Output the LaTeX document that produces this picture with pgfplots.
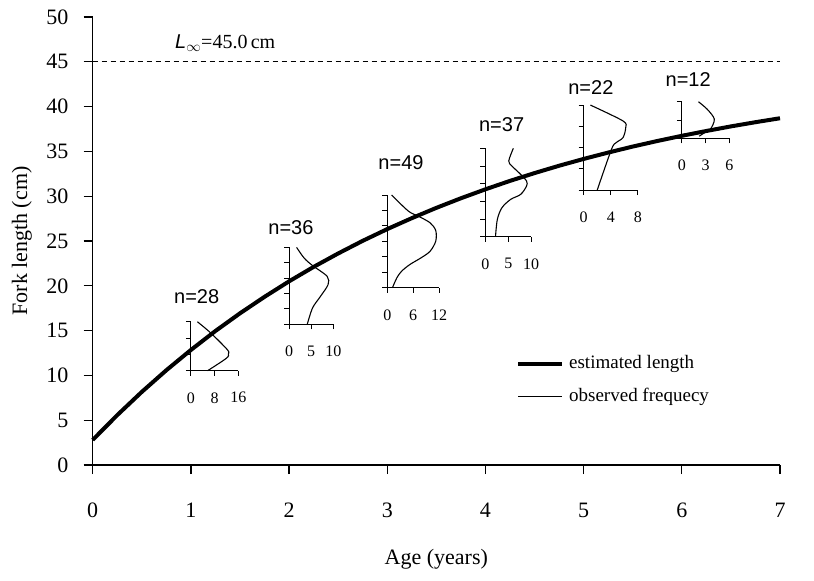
\documentclass[border=0pt]{standalone}
\usepackage{fontspec}
\setmainfont{Liberation Serif}
\newfontfamily\arial{Liberation Sans}
\usepackage{pgfplots}
\pgfplotsset{compat=1.18}
\pgfplotsset{/pgf/number format/assume math mode=true}
\pgfplotsset{
 inset/.style={anchor=south west, y=8.962pt, axis lines=left,
   axis line style={-, line width=1pt}, xmin=0,
   tick align=outside, major tick length=5pt, tick style={line width=1pt, black},
   yticklabels={},
   xticklabel style={font=\fontsize{16}{19}\selectfont, anchor=center, yshift=-22pt},
   clip=false},
 fcurve/.style={black, line width=1.1pt, smooth, tension=0.5, mark=none}
}
\begin{document}
\begin{tikzpicture}
\useasboundingbox (-92.7pt,-115pt) rectangle (721.4pt,465.1pt);
\begin{axis}[name=main, at={(0,0)}, anchor=south west,
  x=98.2pt, y=8.962pt, xmin=0, xmax=7, ymin=0, ymax=50,
  axis lines=left, axis line style={-, line width=1.3pt},
  xtick={0,1,...,7}, ytick={0,5,...,50},
  tick align=outside, major tick length=9pt, tick style={line width=1.3pt, black},
  tick label style={font=\fontsize{22}{26}\selectfont},
  xticklabel style={anchor=center, yshift=-36pt},
  yticklabel style={anchor=east, xshift=-11.7pt},
  xlabel={Age (years)}, ylabel={Fork length (cm)},
  label style={font=\fontsize{22}{26}\selectfont},
  xlabel style={at={(axis description cs:0.5,-0.21)}, anchor=center},
  ylabel style={at={(axis description cs:-0.103,0.5)}, anchor=center, rotate=0},
  clip=false]
\addplot[black, line width=1.2pt, dash pattern=on 5pt off 4pt] coordinates {(0,45) (7,45)};
\node[font=\fontsize{20}{24}\selectfont] at (axis cs:1.35,47.09) {{\arial\itshape L}$_{\infty}$=45.0\,cm};
\coordinate (o1) at (axis cs:1,10.52);
\coordinate (o2) at (axis cs:2,15.70);
\coordinate (o3) at (axis cs:3,19.78);
\coordinate (o4) at (axis cs:4,25.47);
\coordinate (o5) at (axis cs:5,30.68);
\coordinate (o6) at (axis cs:6,36.45);
\node[font=\arial\fontsize{20}{24}\selectfont] at (axis cs:1.059,18.78) {n=28};
\node[font=\arial\fontsize{20}{24}\selectfont] at (axis cs:2.019,26.45) {n=36};
\node[font=\arial\fontsize{20}{24}\selectfont] at (axis cs:3.14,33.7) {n=49};
\node[font=\arial\fontsize{20}{24}\selectfont] at (axis cs:4.165,37.94) {n=37};
\node[font=\arial\fontsize{20}{24}\selectfont] at (axis cs:5.074,42.14) {n=22};
\node[font=\arial\fontsize{20}{24}\selectfont] at (axis cs:6.065,43.07) {n=12};
\end{axis}

\begin{axis}[inset, at={(o1)}, x=2.975pt, xmax=16, ymin=10.52, ymax=15.99,
  xtick={0,8,16}, ytick={10.52,12.34,14.17,15.99}]
\addplot[fcurve] coordinates {(2.2,15.99) (6.7,14.73) (12.3,12.86) (12.6,12.39) (12.0,11.93) (5.6,10.52)};
\end{axis}

\begin{axis}[inset, at={(o2)}, x=4.43pt, xmax=10, ymin=15.70, ymax=24.29,
  xtick={0,5,10}, ytick={15.70,17.42,19.14,20.85,22.57,24.29}]
\addplot[fcurve] coordinates {(1.7,24.29) (3.4,23.1) (5.3,22.26) (8.6,21.06) (8.8,20.13) (7.1,18.83) (5.3,17.53) (4.1,15.70)};
\end{axis}

\begin{axis}[inset, at={(o3)}, x=4.33pt, xmax=12, ymin=19.78, ymax=30.13,
  xtick={0,6,12}, ytick={19.78,21.51,23.23,24.96,26.68,28.41,30.13}]
\addplot[fcurve] coordinates {(1.0,30.13) (4.9,28.33) (7.2,27.77) (9.9,27.03) (11.2,26.17) (11.2,24.98) (9.9,23.86) (7.8,23.12) (5.2,22.37) (3.3,21.62) (2.2,20.88) (1.2,19.78)};
\end{axis}

\begin{axis}[inset, at={(o4)}, x=4.57pt, xmax=10, ymin=25.47, ymax=35.34,
  xtick={0,5,10}, ytick={25.47,27.44,29.42,31.39,33.37,35.34}]
\addplot[fcurve] coordinates {(6.1,35.34) (5.1,33.93) (5.8,33.37) (7.7,32.44) (9.0,31.69) (9.0,31.13) (7.7,30.2) (5.5,29.64) (3.6,28.71) (2.6,27.4) (2.2,25.47)};
\end{axis}

\begin{axis}[inset, at={(o5)}, x=6.79pt, xmax=8, ymin=30.68, ymax=40.17,
  xtick={0,4,8}, ytick={30.68,33.05,35.43,37.80,40.17}]
\addplot[fcurve] coordinates {(1.0,40.17) (5.8,38.4) (6.2,37.66) (5.8,36.54) (4.8,35.98) (4.1,35.23) (2.0,30.68)};
\end{axis}

\begin{axis}[inset, at={(o6)}, x=7.93pt, xmax=6, ymin=36.45, ymax=40.54,
  xtick={0,3,6}, ytick={36.45,38.50,40.54}]
\addplot[fcurve] coordinates {(2.1,40.54) (3.2,39.71) (4.1,38.6) (3.6,37.47) (2.9,37.1) (2.2,36.7)};
\end{axis}

\begin{axis}[at={(0,0)}, anchor=south west,
  x=98.2pt, y=8.962pt, xmin=0, xmax=7, ymin=0, ymax=50,
  hide axis, clip=false,
  legend image code/.code={\draw[#1] (0pt,0pt) -- (44pt,0pt);},
  legend style={at={(axis cs:4.311,9.485)}, anchor=west, draw=none, fill=none,
    inner sep=0pt, font=\fontsize{19}{22}\selectfont, row sep=16pt, column sep=5pt,
    nodes={inner sep=0pt, text height=13pt, text depth=4pt}},
  legend cell align=left]
\addplot[black, line width=4pt] coordinates {
(0,2.80) (0.25,5.57) (0.5,8.16) (0.75,10.58) (1,12.84) (1.25,14.96) (1.5,16.93)
(1.75,18.77) (2,20.50) (2.25,22.11) (2.5,23.61) (2.75,25.02) (3,26.33) (3.25,27.55)
(3.5,28.70) (3.75,29.77) (4,30.77) (4.25,31.71) (4.5,32.58) (4.75,33.40) (5,34.16)
(5.25,34.87) (5.5,35.54) (5.75,36.16) (6,36.74) (6.25,37.28) (6.5,37.79) (6.75,38.26) (7,38.70)};
\addlegendentry{estimated length}
\addlegendimage{black, line width=1.1pt}
\addlegendentry{observed frequecy}
\end{axis}
\end{tikzpicture}
\end{document}
